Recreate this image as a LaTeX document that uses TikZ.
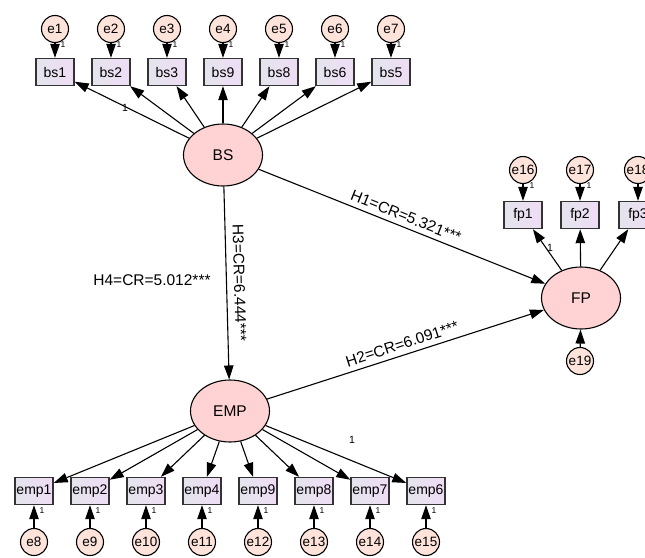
\documentclass[tikz,border=0pt]{standalone}
\usepackage{fontspec}
\setmainfont{Liberation Sans}
\usetikzlibrary{arrows.meta,shapes.geometric}
\definecolor{latfill}{HTML}{FFD3D3}
\definecolor{errfill}{HTML}{FDE3DA}
\definecolor{boxL}{HTML}{E4E4EC}
\definecolor{boxR}{HTML}{EFDDF6}
\definecolor{boxline}{HTML}{333333}
\tikzset{
 latent/.style={ellipse, draw, line width=1.1pt, fill=latfill, minimum width=79pt, minimum height=62pt, inner sep=0pt, font=\fontsize{15.5}{17}\selectfont},
 err/.style={circle, draw, line width=1.1pt, fill=errfill, minimum size=27pt, inner sep=0pt, font=\fontsize{13.5}{15}\selectfont},
 obs/.style={rectangle, draw=boxline, line width=1.4pt, left color=boxL, right color=boxR, minimum width=38pt, minimum height=27pt, inner sep=0pt, font=\fontsize{14}{15}\selectfont},
 conn/.style={line width=1.1pt, -{Triangle[length=14pt,width=9.5pt]}},
 one/.style={font=\fontsize{8.5}{10}\selectfont, inner sep=0pt},
 lone/.style={font=\fontsize{10.5}{12}\selectfont, inner sep=0pt},
 hlab/.style={font=\fontsize{15.5}{17}\selectfont, inner sep=0pt},
}
\begin{document}
\begin{tikzpicture}[x=1pt,y=-1pt]
\useasboundingbox (0,0) rectangle (645,557);
% latent variables
\node[latent] (BS) at (223,155) {BS};
\node[latent] (EMP) at (230,411) {EMP};
\node[latent] (FP) at (581,298) {FP};
% BS indicators
\foreach \i/\name/\x in {1/bs1/55, 2/bs2/111, 3/bs3/167, 4/bs9/223, 5/bs8/279, 6/bs6/335, 7/bs5/391}{
  \node[obs] (b\i) at (\x,72) {\name};
  \node[err] (e\i) at (\x,29) {e\i};
  \draw[conn] (e\i) -- (b\i);
  \node[one] (o\i) at (\x+8,45) {1};
  \draw[conn] (BS) -- (b\i);
}
\node[lone] (lbs) at (125,108) {1};
% EMP indicators
\foreach \i/\name/\x in {8/emp1/34, 9/emp2/90, 10/emp3/146, 11/emp4/202, 12/emp9/258, 13/emp8/314, 14/emp7/370, 15/emp6/426}{
  \node[obs] (b\i) at (\x,491) {\name};
  \node[err] (e\i) at (\x,542) {e\i};
  \draw[conn] (e\i) -- (b\i);
  \node[one] (o\i) at (\x+8,511) {1};
  \draw[conn] (EMP) -- (b\i);
}
\node[lone] (lemp) at (352,440) {1};
% FP indicators
\foreach \i/\name/\x in {16/fp1/523, 17/fp2/580, 18/fp3/638}{
  \node[obs] (b\i) at (\x,215) {\name};
  \node[err] (e\i) at (\x,170) {e\i};
  \draw[conn] (e\i) -- (b\i);
  \node[one] (o\i) at (\x+9,186) {1};
  \draw[conn] (FP) -- (b\i);
}
\node[lone] (lfp) at (550,248) {1};
\node[err] (e19) at (580,361) {e19};
\draw[conn] (e19) -- (FP);
% structural paths
\draw[conn] (BS) -- node[hlab, sloped, above=5pt] {H1=CR=5.321***} (FP);
\draw[conn] (EMP) -- node[hlab, sloped, above=5pt] {H2=CR=6.091***} (FP);
\draw[conn] (BS) -- node[hlab, sloped, above=7pt] {H3=CR=6.444***} (EMP);
\node[hlab] (h4) at (152,280) {H4=CR=5.012***};
\end{tikzpicture}
\end{document}
